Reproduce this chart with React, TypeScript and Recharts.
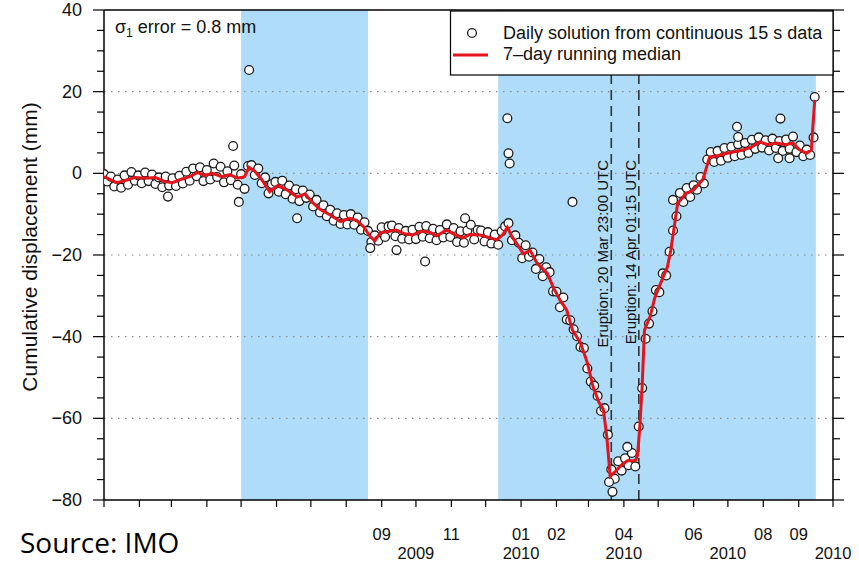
import React from "react";
import {
  ComposedChart,
  Scatter,
  Line,
  XAxis,
  YAxis,
  ReferenceArea,
  ReferenceLine,
} from "recharts";

// days since 2009-01-01 at the first of each month, Jan 2009 .. Oct 2010
const monthStarts = [0, 31, 59, 90, 120, 151, 181, 212, 243, 273, 304, 334, 365, 396, 424, 455, 485, 516, 546, 577, 608, 638];
const monthLabels = ["", "", "", "", "", "", "", "", "09", "", "11", "", "01", "02", "", "04", "", "06", "", "08", "09", ""];
const yearLabels = ["", "", "", "", "", "", "", "", "", "2009", "", "", "2010", "", "", "2010", "", "", "2010", "", "", "2010"];

const yTicks = [-80, -75, -70, -65, -60, -55, -50, -45, -40, -35, -30, -25, -20, -15, -10, -5, 0, 5, 10, 15, 20, 25, 30, 35, 40];
const gridLevels = [20, 0, -20, -40, -60];

// daily solutions, every 3rd day starting 2009-01-01 (mm)
const sampleStep = 3;
const dailyMm = [
  -0.2, -2.0, -0.8, -3.2, -1.5, -3.5, -0.5, -2.8, 0.3, -1.8,
  -0.5, -2.4, 0.2, -1.9, -0.3, -2.6, -1.0, -3.4, -0.8, -3.0,
  -1.2, -3.1, -0.6, -2.5, 0.4, -1.8, 1.2, -0.7, 1.5, -1.9,
  0.8, -1.5, 2.4, -0.9, 1.6, -2.2, 0.5, -1.7, 1.9, -2.8,
  -0.2, -3.8, 1.8, 2.0, -0.4, 1.2, -2.4, -1.0, -4.9, -2.6,
  -2.1, -4.5, -1.8, -5.1, -3.0, -6.2, -3.9, -6.8, -4.2, -6.0,
  -5.2, -8.1, -6.5, -9.6, -7.8, -10.5, -8.9, -11.6, -9.8, -12.4,
  -10.2, -12.5, -10.0, -12.6, -10.8, -13.8, -12.0, -14.1, -16.8, -15.2,
  -16.5, -13.2, -15.6, -13.0, -12.8, -15.4, -13.4, -16.0, -14.1, -16.2,
  -13.8, -16.1, -13.1, -15.5, -12.9, -15.9, -13.6, -16.4, -13.9, -15.7,
  -12.5, -15.6, -13.4, -16.8, -14.2, -17.0, -14.0, -12.6, -16.2, -13.9,
  -14.0, -16.7, -14.4, -17.2, -15.0, -17.5, -14.2, -13.0, -12.2, -16.4,
  -15.2, -17.0, -20.8, -17.6, -20.4, -19.4, -23.4, -21.0, -25.2, -23.0,
  -24.2, -28.9, -29.0, -32.8, -30.4, -35.8, -36.0, -38.2, -39.9, -42.5,
  -42.8, -47.8, -51.0, -52.0, -54.5, -58.2, -57.5, -64.0, -72.5, -74.8,
  -70.5, -72.8, -69.8, -71.5, -68.5, -71.8, -62.0, -52.6, -40.5, -36.8,
  -33.8, -28.6, -29.1, -24.5, -25.0, -19.2, -14.0, -10.5, -4.8, -7.0,
  -3.6, -5.8, -2.9, -4.0, -0.9, -2.5, 3.4, 5.2, 2.8, 5.5,
  3.1, 6.2, 3.8, 6.5, 4.2, 7.1, 4.5, 7.4, 5.0, 8.2,
  6.0, 8.8, 6.3, 8.1, 5.6, 8.5, 6.2, 7.9, 5.5, 8.3,
  6.0, 9.0, 5.2, 6.8, 4.2, 5.8, 4.5, 8.8,
];

// scattered single days off the main band
const outlierDay = [56, 113, 118, 127, 169, 233, 256, 281, 316, 353, 354, 355, 410, 442, 445, 458, 498, 554, 555, 590, 592, 600, 622];
const outlierMm = [-5.7, 6.7, -7.0, 25.3, -11.0, -18.3, -18.8, -21.6, -11.0, 13.5, 4.9, 2.4, -7.0, -75.6, -78.0, -67.0, -6.5, 11.4, 8.9, 3.7, 13.4, 3.7, 18.7];

// 7-day running median
const medianDay = [
  0, 5, 11, 18, 27, 36, 45, 53, 60, 67, 75, 82, 88, 95, 103, 110, 117, 123, 127, 132,
  138, 145, 152, 160, 169, 176, 182, 189, 198, 207, 215, 221, 227, 233, 237, 242, 250, 256, 263, 270,
  277, 285, 291, 300, 307, 314, 320, 329, 338, 344, 349, 353, 357, 361, 367, 373, 379, 388, 393, 399,
  405, 410, 417, 423, 428, 433, 437, 440, 443, 447, 452, 458, 465, 467, 469, 471, 473, 478, 482, 487,
  493, 496, 499, 502, 509, 516, 524, 530, 537, 545, 552, 559, 567, 574, 581, 589, 596, 603, 609, 615,
  619, 622,
];
const medianMm = [
  -0.8, -1.5, -2.3, -1.8, -1.0, -1.2, -1.0, -2.0, -2.3, -1.5, -0.8, 0.2, -0.5, 0.0, -0.8, -0.3, -1.2, -0.8, 1.5, 0.5,
  -1.5, -4.5, -3.0, -4.0, -5.8, -5.0, -7.0, -8.8, -10.2, -11.8, -11.0, -11.5, -13.0, -15.5, -16.5, -14.5, -14.2, -13.9, -14.8, -15.1,
  -14.2, -14.4, -15.3, -13.9, -15.0, -15.8, -15.0, -15.1, -15.8, -16.3, -15.0, -13.2, -15.5, -17.1, -19.7, -18.9, -22.0, -24.5, -27.8, -31.0,
  -33.5, -38.4, -41.5, -46.4, -52.2, -56.0, -57.8, -64.4, -74.2, -73.2, -71.7, -70.4, -70.4, -69.0, -61.7, -52.0, -38.4, -35.0, -30.5, -27.0,
  -23.0, -18.9, -13.2, -7.4, -5.0, -4.1, -1.6, 4.0, 4.3, 4.9, 5.3, 5.7, 6.5, 7.7, 7.0, 7.4, 7.0, 7.4, 5.7, 4.9,
  5.7, 18.0,
];

// continuous-data periods (shaded), in days
const bandStart = [120, 345];
const bandEnd = [231, 623];

const eruptionDay = [443.96, 468.05];
const eruptionText = ["Eruption: 20 Mar 23:00 UTC", "Eruption: 14 Apr 01:15 UTC"];

const points = [
  ...dailyMm.map((mm, i) => ({ day: i * sampleStep, mm })),
  ...outlierDay.map((day, i) => ({ day, mm: outlierMm[i] })),
];
const median = medianDay.map((day, i) => ({ day, mm: medianMm[i] }));

const FONT = "'Liberation Sans', Arial, Helvetica, sans-serif";
const BLUE = "#aedcf9";
const RED = "#e3141b";

const minus = (v: number) => (v < 0 ? "\u2212" + Math.abs(v) : String(v));

function Ring(props: any) {
  if (props.cx == null) return null;
  return <circle cx={props.cx} cy={props.cy} r={4.4} fill="#fff" stroke="#1a1a1a" strokeWidth={1.3} />;
}

function LeftTick({ x, y, payload }: any) {
  const major = payload.value % 20 === 0;
  return (
    <g>
      <line x1={x - (major ? 11 : 7)} x2={x} y1={y} y2={y} stroke="#000" strokeWidth={1.2} />
      {major && (
        <text x={x - 22} y={y + 6} textAnchor="end" fontSize={18} fill="#111" fontFamily={FONT}>
          {minus(payload.value)}
        </text>
      )}
    </g>
  );
}

function RightTick({ x, y, payload }: any) {
  const major = payload.value % 20 === 0;
  return <line x1={x} x2={x + (major ? 11 : 7)} y1={y} y2={y} stroke="#000" strokeWidth={1.2} />;
}

function MonthTick({ x, y, payload }: any) {
  const i = monthStarts.indexOf(payload.value);
  return (
    <g fontFamily={FONT} fontSize={16.5} fill="#111">
      <text x={x} y={y + 33} textAnchor="middle">{monthLabels[i]}</text>
      <text x={x} y={y + 52} textAnchor="middle">{yearLabels[i]}</text>
    </g>
  );
}

function EruptionLabel({ viewBox, text }: any) {
  const x = viewBox.x - 3;
  return (
    <text
      transform={`translate(${x},160) rotate(-90)`}
      textAnchor="end"
      fontSize={15}
      fill="#111"
      fontFamily={FONT}
    >
      {text}
    </text>
  );
}

export default function App() {
  return (
    <div style={{ position: "absolute", left: 0, top: 0, width: 859, height: 564, background: "#fff" }}>
      <ComposedChart width={859} height={564} margin={{ top: 10, right: 0, bottom: 0, left: 0 }}>
        <XAxis
          dataKey="day"
          type="number"
          domain={[0, 638]}
          ticks={monthStarts}
          interval={0}
          allowDataOverflow
          height={64}
          tickSize={7}
          tickMargin={0}
          tickLine={{ stroke: "#000", strokeWidth: 1.2 }}
          axisLine={{ stroke: "#000", strokeWidth: 1.5 }}
          tick={<MonthTick />}
        />
        <YAxis
          yAxisId="left"
          type="number"
          domain={[-80, 40]}
          ticks={yTicks}
          interval={0}
          allowDataOverflow
          width={104}
          tickSize={0}
          tickMargin={0}
          tickLine={false}
          axisLine={{ stroke: "#000", strokeWidth: 1.5 }}
          tick={<LeftTick />}
        />
        <YAxis
          yAxisId="right"
          orientation="right"
          type="number"
          domain={[-80, 40]}
          ticks={yTicks}
          interval={0}
          allowDataOverflow
          width={26}
          tickSize={0}
          tickMargin={0}
          tickLine={false}
          axisLine={{ stroke: "#000", strokeWidth: 1.5 }}
          tick={<RightTick />}
        />
        {bandStart.map((s, i) => (
          <ReferenceArea key={`band-${i}`} yAxisId="left" x1={s} x2={bandEnd[i]} y1={-80} y2={40} fill={BLUE} fillOpacity={1} stroke="none" />
        ))}
        {gridLevels.map((g) => (
          <ReferenceLine key={`grid-${g}`} yAxisId="left" y={g} stroke="#8a8a8a" strokeWidth={1.2} strokeDasharray="1.5 5.5" />
        ))}
        <ReferenceLine yAxisId="left" y={40} stroke="#000" strokeWidth={1.5} />
        {eruptionDay.map((d, i) => (
          <ReferenceLine
            key={`eruption-${i}`}
            yAxisId="left"
            x={d}
            stroke="#333"
            strokeWidth={1.6}
            strokeDasharray="10 6"
            label={<EruptionLabel text={eruptionText[i]} />}
          />
        ))}
        <Scatter yAxisId="left" data={points} dataKey="mm" shape={<Ring />} isAnimationActive={false} />
        <Line
          yAxisId="left"
          data={median}
          dataKey="mm"
          type="linear"
          stroke={RED}
          strokeWidth={3}
          dot={false}
          activeDot={false}
          isAnimationActive={false}
          zIndex={700}
        />
      </ComposedChart>
      <svg
        width={859}
        height={564}
        style={{ position: "absolute", left: 0, top: 0, pointerEvents: "none" }}
        fontFamily={FONT}
        fill="#111"
      >
        <text x={115} y={33} fontSize={18}>
          σ<tspan fontSize={12} dy={4}>1</tspan>
          <tspan dy={-4}> error = 0.8 mm</tspan>
        </text>
        <text transform="translate(37,247) rotate(-90)" textAnchor="middle" fontSize={21}>
          Cumulative displacement (mm)
        </text>
        <rect x={450.5} y={11} width={382.5} height={64} fill="#fff" stroke="#000" strokeWidth={1.2} />
        <circle cx={472} cy={33} r={4.4} fill="#fff" stroke="#1a1a1a" strokeWidth={1.3} />
        <line x1={453} x2={488} y1={55} y2={55} stroke={RED} strokeWidth={3} />
        <text x={503} y={38.5} fontSize={18}>Daily solution from continuous 15 s data</text>
        <text x={503} y={60} fontSize={18}>7–day running median</text>
        <text x={20} y={553} fontSize={28} fontFamily="'Open Sans', sans-serif" fill="#000">
          Source: IMO
        </text>
      </svg>
    </div>
  );
}
